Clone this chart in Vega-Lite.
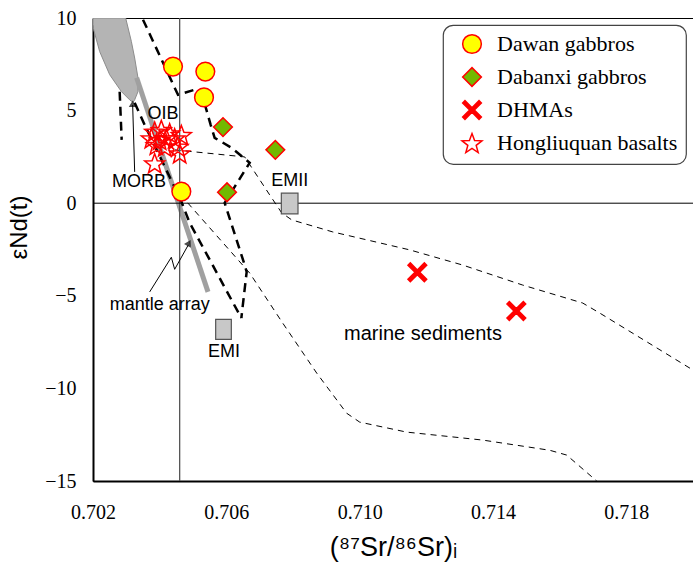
{
  "$schema": "https://vega.github.io/schema/vega-lite/v6.json",
  "width": 600,
  "height": 463,
  "autosize": {"type": "none"},
  "padding": {"left": 93, "top": 18, "right": 0, "bottom": 86},
  "background": "white",
  "config": {
    "view": {"stroke": "black", "strokeWidth": 1},
    "legend": {
      "orient": "none", "legendX": 350, "legendY": 7,
      "labelFont": "Liberation Serif", "labelFontSize": 22, "labelColor": "black", "labelLimit": 400,
      "symbolSize": 350, "symbolStrokeWidth": 1.5, "symbolStrokeColor": "red",
      "rowPadding": 7, "padding": 8, "cornerRadius": 10,
      "strokeColor": "#444", "strokeWidth": 1.2, "fillColor": "white",
      "labelOffset": 14, "symbolOffset": 10
    }
  },
  "datasets": {
    "pts": [
      {"g": "Hongliuquan basalts", "x": 0.70385, "y": 3.87},
      {"g": "Hongliuquan basalts", "x": 0.70405, "y": 3.96},
      {"g": "Hongliuquan basalts", "x": 0.7043, "y": 3.78},
      {"g": "Hongliuquan basalts", "x": 0.70375, "y": 3.51},
      {"g": "Hongliuquan basalts", "x": 0.704, "y": 3.42},
      {"g": "Hongliuquan basalts", "x": 0.7042, "y": 3.51},
      {"g": "Hongliuquan basalts", "x": 0.70445, "y": 3.51},
      {"g": "Hongliuquan basalts", "x": 0.70465, "y": 3.69},
      {"g": "Hongliuquan basalts", "x": 0.7039, "y": 3.15},
      {"g": "Hongliuquan basalts", "x": 0.70415, "y": 3.06},
      {"g": "Hongliuquan basalts", "x": 0.70455, "y": 3.06},
      {"g": "Hongliuquan basalts", "x": 0.7046, "y": 2.7},
      {"g": "Hongliuquan basalts", "x": 0.70385, "y": 2.16},
      {"g": "Dawan gabbros", "x": 0.7044, "y": 7.38},
      {"g": "Dawan gabbros", "x": 0.70537, "y": 7.11},
      {"g": "Dawan gabbros", "x": 0.70533, "y": 5.71},
      {"g": "Dawan gabbros", "x": 0.70465, "y": 0.63},
      {"g": "Dabanxi gabbros", "x": 0.7059, "y": 4.11},
      {"g": "Dabanxi gabbros", "x": 0.70747, "y": 2.88},
      {"g": "Dabanxi gabbros", "x": 0.70602, "y": 0.59},
      {"g": "DHMAs", "x": 0.71173, "y": -3.73},
      {"g": "DHMAs", "x": 0.7147, "y": -5.82}
    ],
    "morb": [
      {"o": 1, "x": 0.702, "y": 10},
      {"o": 2, "x": 0.70298, "y": 10},
      {"o": 3, "x": 0.70315, "y": 8.74},
      {"o": 4, "x": 0.70325, "y": 7.84},
      {"o": 5, "x": 0.70335, "y": 6.76},
      {"o": 6, "x": 0.70335, "y": 6.03},
      {"o": 7, "x": 0.70325, "y": 5.58},
      {"o": 8, "x": 0.7032, "y": 5.45},
      {"o": 9, "x": 0.7031, "y": 5.58},
      {"o": 10, "x": 0.70285, "y": 6.03},
      {"o": 11, "x": 0.7025, "y": 6.94},
      {"o": 12, "x": 0.7022, "y": 8.19},
      {"o": 13, "x": 0.70202, "y": 9.37},
      {"o": 14, "x": 0.702, "y": 9.64},
      {"o": 15, "x": 0.702, "y": 10}
    ],
    "mantle": [
      {"o": 1, "x": 0.70331, "y": 6.77},
      {"o": 2, "x": 0.70545, "y": -4.79}
    ],
    "thick": [
      {"p": "A", "o": 1, "x": 0.7035, "y": 9.91},
      {"p": "A", "o": 2, "x": 0.70455, "y": 5.85},
      {"p": "A", "o": 3, "x": 0.70515, "y": 6.18},
      {"p": "A", "o": 4, "x": 0.70535, "y": 5.37},
      {"p": "A", "o": 5, "x": 0.70553, "y": 4.23},
      {"p": "A", "o": 6, "x": 0.70565, "y": 3.53},
      {"p": "A", "o": 7, "x": 0.70616, "y": 2.99},
      {"p": "A", "o": 8, "x": 0.7067, "y": 2.18},
      {"p": "A", "o": 9, "x": 0.70595, "y": 0.02},
      {"p": "A", "o": 10, "x": 0.70655, "y": -3.34},
      {"p": "A", "o": 11, "x": 0.70661, "y": -3.71},
      {"p": "A", "o": 12, "x": 0.70645, "y": -6.2},
      {"p": "C", "o": 1, "x": 0.70325, "y": 5.42},
      {"p": "C", "o": 2, "x": 0.70355, "y": 4.23},
      {"p": "C", "o": 3, "x": 0.70463, "y": 0.18},
      {"p": "C", "o": 4, "x": 0.7049, "y": -1.06},
      {"p": "C", "o": 5, "x": 0.70645, "y": -6.2},
      {"p": "D", "o": 1, "x": 0.7028, "y": 6.02},
      {"p": "D", "o": 2, "x": 0.70286, "y": 3.42}
    ],
    "thin": [
      {"p": "E", "o": 1, "x": 0.70445, "y": 2.88},
      {"p": "E", "o": 2, "x": 0.70655, "y": 2.5},
      {"p": "E", "o": 3, "x": 0.7073, "y": 0.45},
      {"p": "E", "o": 4, "x": 0.70766, "y": -0.52},
      {"p": "E", "o": 5, "x": 0.70796, "y": -0.9},
      {"p": "E", "o": 6, "x": 0.70919, "y": -1.55},
      {"p": "E", "o": 7, "x": 0.7115, "y": -2.52},
      {"p": "E", "o": 8, "x": 0.71309, "y": -3.34},
      {"p": "E", "o": 9, "x": 0.71489, "y": -4.42},
      {"p": "E", "o": 10, "x": 0.71669, "y": -5.39},
      {"p": "E", "o": 11, "x": 0.7172, "y": -5.93},
      {"p": "E", "o": 12, "x": 0.72, "y": -9.01},
      {"p": "F", "o": 1, "x": 0.70484, "y": 0.02},
      {"p": "F", "o": 2, "x": 0.7067, "y": -3.77},
      {"p": "F", "o": 3, "x": 0.70769, "y": -6.47},
      {"p": "F", "o": 4, "x": 0.70871, "y": -9.17},
      {"p": "F", "o": 5, "x": 0.70961, "y": -11.34},
      {"p": "F", "o": 6, "x": 0.71, "y": -11.82},
      {"p": "F", "o": 7, "x": 0.71141, "y": -12.36},
      {"p": "F", "o": 8, "x": 0.71369, "y": -12.79},
      {"p": "F", "o": 9, "x": 0.7157, "y": -13.34},
      {"p": "F", "o": 10, "x": 0.71621, "y": -13.6},
      {"p": "F", "o": 11, "x": 0.71711, "y": -15}
    ],
    "arrows": [
      {"p": "M", "o": 1, "x": 0.70325, "y": 1.69},
      {"p": "M", "o": 2, "x": 0.70319, "y": 5.3},
      {"p": "N", "o": 1, "x": 0.7037, "y": -4.79},
      {"p": "N", "o": 2, "x": 0.70435, "y": -2.92},
      {"p": "N", "o": 3, "x": 0.70445, "y": -3.57},
      {"p": "N", "o": 4, "x": 0.70486, "y": -2.25}
    ],
    "heads": [
      {"x": 0.70319, "y": 5.37, "a": 0},
      {"x": 0.70488, "y": -2.15, "a": 28.5}
    ],
    "rects": [
      {"x": 0.70568, "x2": 0.70615, "y": -6.27, "y2": -7.35},
      {"x": 0.70765, "x2": 0.70815, "y": 0.54, "y2": -0.58}
    ],
    "labels": [
      {"t": "OIB", "x": 0.7041, "y": 4.82},
      {"t": "MORB", "x": 0.70338, "y": 1.12},
      {"t": "EMII", "x": 0.7079, "y": 1.22},
      {"t": "EMI", "x": 0.70593, "y": -8.06},
      {"t": "mantle array", "x": 0.704, "y": -5.5}
    ],
    "labels2": [
      {"t": "marine sediments", "x": 0.7119, "y": -7.08}
    ],
    "vrule": [{"x": 0.7046, "y": 10, "y2": -15}],
    "hrule": [{"x": 0.702, "x2": 0.72, "y": 0}],
    "yticks": [
      {"y": -14}, {"y": -13}, {"y": -12}, {"y": -11}, {"y": -10}, {"y": -9}, {"y": -8}, {"y": -7}, {"y": -6}, {"y": -5},
      {"y": -4}, {"y": -3}, {"y": -2}, {"y": -1}, {"y": 0}, {"y": 1}, {"y": 2}, {"y": 3}, {"y": 4}, {"y": 5},
      {"y": 6}, {"y": 7}, {"y": 8}, {"y": 9}
    ],
    "xticks": [
      {"x": 0.703}, {"x": 0.704}, {"x": 0.705}, {"x": 0.706}, {"x": 0.707}, {"x": 0.708}, {"x": 0.709}, {"x": 0.71},
      {"x": 0.711}, {"x": 0.712}, {"x": 0.713}, {"x": 0.714}, {"x": 0.715}, {"x": 0.716}, {"x": 0.717}, {"x": 0.718}, {"x": 0.719}
    ]
  },
  "encoding": {
    "x": {
      "field": "x", "type": "quantitative",
      "scale": {"domain": [0.702, 0.72], "nice": false, "zero": false},
      "axis": {
        "values": [0.702, 0.706, 0.71, 0.714, 0.718],
        "format": ".3f",
        "domainColor": "black", "domainWidth": 2,
        "ticks": false, "grid": false,
        "labelFont": "Liberation Serif", "labelFontSize": 20, "labelColor": "black",
        "labelPadding": 21, "labelFlush": false, "labelOverlap": false,
        "title": "(⁸⁷Sr/⁸⁶Sr)ᵢ", "titleFont": "Liberation Sans, DejaVu Sans", "titleFontSize": 27,
        "titleFontWeight": "normal", "titleColor": "black", "titlePadding": 12
      }
    },
    "y": {
      "field": "y", "type": "quantitative",
      "scale": {"domain": [-15, 10], "nice": false, "zero": false},
      "axis": {
        "values": [-15, -10, -5, 0, 5, 10],
        "format": "d",
        "domainColor": "black", "domainWidth": 2,
        "ticks": false, "grid": false,
        "labelFont": "Liberation Serif", "labelFontSize": 20, "labelColor": "black",
        "labelPadding": 17, "labelFlush": false, "labelOverlap": false,
        "title": "εNd(t)", "titleFont": "Liberation Sans, DejaVu Sans", "titleFontSize": 24,
        "titleFontWeight": "normal", "titleColor": "black", "titleX": -62, "titleY": 209
      }
    }
  },
  "layer": [
    {
      "data": {"name": "yticks"},
      "mark": {"type": "rule", "stroke": "#222", "strokeWidth": 1},
      "encoding": {"x": {"datum": 0.702, "type": "quantitative"}, "x2": {"datum": 0.70239}}
    },
    {
      "data": {"name": "xticks"},
      "mark": {"type": "rule", "stroke": "#222", "strokeWidth": 1},
      "encoding": {"y": {"datum": -15, "type": "quantitative"}, "y2": {"datum": -14.35}}
    },
    {
      "data": {"name": "morb"},
      "mark": {"type": "line", "fill": "#b4b4b4", "stroke": "#8c8c8c", "strokeWidth": 1, "clip": true},
      "encoding": {"order": {"field": "o", "type": "quantitative"}}
    },
    {
      "data": {"name": "mantle"},
      "mark": {"type": "line", "stroke": "#a0a0a0", "strokeWidth": 5, "clip": true},
      "encoding": {"order": {"field": "o", "type": "quantitative"}}
    },
    {
      "data": {"name": "thin"},
      "mark": {"type": "line", "stroke": "black", "strokeWidth": 1, "strokeDash": [6, 5], "clip": true},
      "encoding": {"detail": {"field": "p"}, "order": {"field": "o", "type": "quantitative"}}
    },
    {
      "data": {"name": "thick"},
      "mark": {"type": "line", "stroke": "black", "strokeWidth": 2.5, "strokeDash": [9, 6], "clip": true},
      "encoding": {"detail": {"field": "p"}, "order": {"field": "o", "type": "quantitative"}}
    },
    {
      "data": {"name": "vrule"},
      "mark": {"type": "rule", "stroke": "#555", "strokeWidth": 1.3},
      "encoding": {"y2": {"field": "y2"}}
    },
    {
      "data": {"name": "hrule"},
      "mark": {"type": "rule", "stroke": "black", "strokeWidth": 1},
      "encoding": {"x2": {"field": "x2"}}
    },
    {
      "data": {"name": "rects"},
      "mark": {"type": "rect", "fill": "#c8c8c8", "stroke": "#555", "strokeWidth": 1.2},
      "encoding": {"x2": {"field": "x2"}, "y2": {"field": "y2"}}
    },
    {
      "data": {"name": "arrows"},
      "mark": {"type": "line", "stroke": "black", "strokeWidth": 1},
      "encoding": {"detail": {"field": "p"}, "order": {"field": "o", "type": "quantitative"}}
    },
    {
      "data": {"name": "heads"},
      "mark": {"type": "point", "shape": "triangle-up", "filled": true, "fill": "black", "size": 60, "strokeWidth": 0},
      "encoding": {"angle": {"field": "a", "type": "quantitative", "scale": null}}
    },
    {
      "data": {"name": "labels"},
      "mark": {"type": "text", "font": "Liberation Sans", "fontSize": 18, "align": "center", "baseline": "middle", "fill": "black"},
      "encoding": {"text": {"field": "t"}}
    },
    {
      "data": {"name": "labels2"},
      "mark": {"type": "text", "font": "Liberation Sans", "fontSize": 20, "align": "center", "baseline": "middle", "fill": "black"},
      "encoding": {"text": {"field": "t"}}
    },
    {
      "data": {"name": "pts"},
      "mark": {"type": "point", "filled": true, "strokeWidth": 1.5, "size": 350, "opacity": 1},
      "encoding": {
        "shape": {
          "field": "g", "type": "nominal",
          "scale": {
            "domain": ["Dawan gabbros", "Dabanxi gabbros", "DHMAs", "Hongliuquan basalts"],
            "range": ["circle", "diamond",
              "M-1,-0.75L-0.75,-1L0,-0.25L0.75,-1L1,-0.75L0.25,0L1,0.75L0.75,1L0,0.25L-0.75,1L-1,0.75L-0.25,0Z",
              "M0,-1.01L0.276,-0.27L1.065,-0.236L0.447,0.255L0.659,1.016L0,0.58L-0.659,1.016L-0.447,0.255L-1.065,-0.236L-0.276,-0.27Z"]
          },
          "legend": {"title": null}
        },
        "fill": {
          "field": "g", "type": "nominal",
          "scale": {
            "domain": ["Dawan gabbros", "Dabanxi gabbros", "DHMAs", "Hongliuquan basalts"],
            "range": ["#ffff00", "#72b800", "#ff0000", "transparent"]
          },
          "legend": {"title": null}
        },
        "stroke": {
          "field": "g", "type": "nominal",
          "scale": {
            "domain": ["Dawan gabbros", "Dabanxi gabbros", "DHMAs", "Hongliuquan basalts"],
            "range": ["#ff0000", "#ff0000", "#ff0000", "#ff0000"]
          },
          "legend": {"title": null}
        }
      }
    }
  ]
}
